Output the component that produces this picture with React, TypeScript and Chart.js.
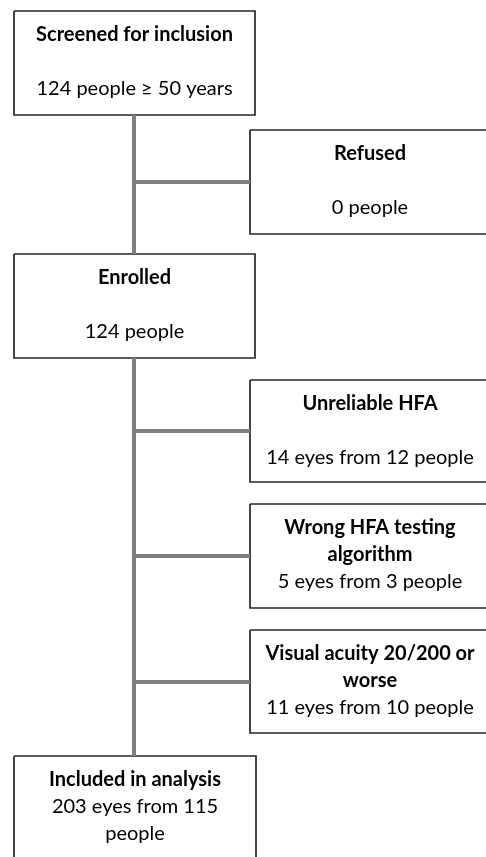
import React, { useEffect, useRef } from "react";
import { Chart, registerables } from "chart.js";

Chart.register(...registerables);

// Flowchart content
const nodeTitles: string[][] = [
  ["Screened for inclusion"],
  ["Refused"],
  ["Enrolled"],
  ["Unreliable HFA"],
  ["Wrong HFA testing", "algorithm"],
  ["Visual acuity 20/200 or", "worse"],
  ["Included in analysis"],
];
const nodeCounts: string[][] = [
  ["124 people ≥ 50 years"],
  ["0 people"],
  ["124 people"],
  ["14 eyes from 12 people"],
  ["5 eyes from 3 people"],
  ["11 eyes from 10 people"],
  ["203 eyes from 115", "people"],
];
// Box extents in diagram units (x: left, right; y: top, bottom)
const nodeLeft = [14, 250, 14, 250, 250, 250, 14];
const nodeRight = [255, 490, 255, 490, 490, 490, 256];
const nodeTop = [11, 130, 254, 380, 504, 630, 756];
const nodeBottom = [115, 234, 358, 482, 608, 733, 870];
// Trunk and branch connectors
const trunkX = 134;
const trunkSegments: [number, number][] = [
  [115, 254],
  [358, 756],
];
const branchY = [182, 431, 556, 682];
const branchEndX = 250;

const W = 486;
const H = 857;

export default function App() {
  const ref = useRef<HTMLCanvasElement | null>(null);

  useEffect(() => {
    document.body.style.margin = "0";
    const canvas = ref.current;
    if (!canvas) return;

    const lineStyle = {
      showLine: true,
      pointRadius: 0,
      pointHoverRadius: 0,
      tension: 0,
      fill: false,
    };

    const datasets: any[] = [];
    trunkSegments.forEach(([a, b]) => {
      datasets.push({
        ...lineStyle,
        data: [
          { x: trunkX, y: a },
          { x: trunkX, y: b },
        ],
        borderColor: "#7f7f7f",
        borderWidth: 4,
        borderCapStyle: "butt",
      });
    });
    branchY.forEach((y) => {
      datasets.push({
        ...lineStyle,
        data: [
          { x: trunkX, y },
          { x: branchEndX, y },
        ],
        borderColor: "#7f7f7f",
        borderWidth: 4,
        borderCapStyle: "butt",
      });
    });
    nodeTitles.forEach((_, i) => {
      datasets.push({
        ...lineStyle,
        data: [
          { x: nodeLeft[i], y: nodeTop[i] },
          { x: nodeRight[i], y: nodeTop[i] },
          { x: nodeRight[i], y: nodeBottom[i] },
          { x: nodeLeft[i], y: nodeBottom[i] },
          { x: nodeLeft[i], y: nodeTop[i] },
        ],
        borderColor: "#262626",
        borderWidth: 1.7,
        borderJoinStyle: "miter",
      });
    });

    const textPlugin = {
      id: "nodeText",
      afterDatasetsDraw(chart: any) {
        const { ctx, scales } = chart;
        const xs = scales.x;
        const ys = scales.y;
        ctx.save();
        ctx.fillStyle = "#000";
        ctx.textAlign = "center";
        ctx.textBaseline = "alphabetic";
        nodeTitles.forEach((titles, i) => {
          const lines: { t: string; b: boolean }[] = [];
          titles.forEach((t) => lines.push({ t, b: true }));
          if (titles.length === 1 && nodeCounts[i].length === 1)
            lines.push({ t: "", b: false });
          nodeCounts[i].forEach((t) => lines.push({ t, b: false }));
          const cx = xs.getPixelForValue((nodeLeft[i] + nodeRight[i]) / 2);
          lines.forEach((ln, k) => {
            if (!ln.t) return;
            const y = ys.getPixelForValue(nodeTop[i] + 29.5 + 27 * k);
            ctx.font = `${ln.b ? "bold " : ""}20px Lato`;
            ctx.fillText(ln.t, cx, y);
          });
        });
        ctx.restore();
      },
    };

    const chart = new Chart(canvas, {
      type: "scatter",
      data: { datasets },
      options: {
        animation: false,
        responsive: false,
        maintainAspectRatio: false,
        layout: { padding: 0 },
        events: [],
        plugins: {
          legend: { display: false },
          tooltip: { enabled: false },
        },
        scales: {
          x: { type: "linear", min: 0, max: W, display: false },
          y: { type: "linear", min: 0, max: H, reverse: true, display: false },
        },
      },
      plugins: [textPlugin],
    });
    return () => chart.destroy();
  }, []);

  return (
    <div style={{ position: "absolute", left: 0, top: 0, width: W, height: H, background: "#fff" }}>
      <canvas ref={ref} width={W} height={H} style={{ display: "block", width: W, height: H }} />
    </div>
  );
}
